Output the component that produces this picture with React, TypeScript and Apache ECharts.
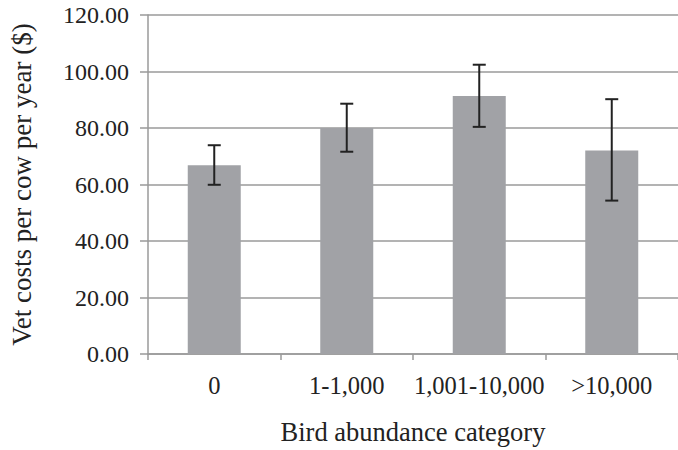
import React, { useEffect, useRef } from "react";
import * as echarts from "echarts";

const categories = ["0", "1-1,000", "1,001-10,000", ">10,000"];
const means = [66.8, 80.0, 91.3, 72.0];
const errLow = [59.9, 71.6, 80.4, 54.3];
const errHigh = [73.9, 88.6, 102.4, 90.2];
const yTicks = [0, 20, 40, 60, 80, 100, 120];

const FONT = "Times New Roman, Liberation Serif, DejaVu Serif, serif";

export default function App() {
  const ref = useRef<HTMLDivElement>(null);
  useEffect(() => {
    if (!ref.current) return;
    const chart = echarts.init(ref.current, null, { renderer: "svg" });
    const errData = categories.map((_, i) => [i, errLow[i], errHigh[i]]);
    chart.setOption({
      animation: false,
      backgroundColor: "#ffffff",
      textStyle: { fontFamily: FONT },
      grid: { left: 147, top: 15, width: 533, height: 344, containLabel: false },
      xAxis: {
        type: "category",
        data: categories,
        name: "Bird abundance category",
        nameLocation: "middle",
        nameGap: 64,
        nameTextStyle: { fontFamily: FONT, fontSize: 26.5, color: "#222" },
        axisLine: { lineStyle: { color: "#9a9a9a", width: 1.5 } },
        axisTick: { show: true, length: 6, interval: 0, lineStyle: { color: "#9a9a9a", width: 1.5 } },
        axisLabel: { fontFamily: FONT, fontSize: 24.5, color: "#222", margin: 19, interval: 0 },
      },
      yAxis: {
        type: "value",
        min: yTicks[0],
        max: yTicks[yTicks.length - 1],
        interval: 20,
        name: "Vet costs per cow per year ($)",
        nameLocation: "middle",
        nameGap: 113,
        nameTextStyle: { fontFamily: FONT, fontSize: 27, color: "#222" },
        axisLine: { show: true, lineStyle: { color: "#9a9a9a", width: 1.5 } },
        axisTick: { show: true, length: 8, inside: false, lineStyle: { color: "#9a9a9a", width: 1.5 } },
        splitLine: { show: true, lineStyle: { color: "#9a9a9a", width: 1.5 } },
        axisLabel: {
          fontFamily: FONT,
          fontSize: 24,
          color: "#222",
          margin: 19,
          formatter: (v: number) => v.toFixed(2),
        },
      },
      series: [
        {
          type: "bar",
          data: means,
          barWidth: "40%",
          itemStyle: { color: "#a1a2a6" },
        },
        {
          type: "custom",
          data: errData,
          z: 10,
          renderItem: (params: any, api: any) => {
            const x = api.value(0);
            const lo = api.coord([x, api.value(1)]);
            const hi = api.coord([x, api.value(2)]);
            const half = 6.5;
            const style = { stroke: "#222", lineWidth: 2 };
            return {
              type: "group",
              children: [
                { type: "line", shape: { x1: hi[0], y1: hi[1], x2: lo[0], y2: lo[1] }, style },
                { type: "line", shape: { x1: hi[0] - half, y1: hi[1], x2: hi[0] + half, y2: hi[1] }, style },
                { type: "line", shape: { x1: lo[0] - half, y1: lo[1], x2: lo[0] + half, y2: lo[1] }, style },
              ],
            };
          },
        },
      ],
    });
    return () => chart.dispose();
  }, []);
  return (
    <div
      ref={ref}
      style={{ position: "absolute", left: 0, top: 0, width: 678, height: 450 }}
    />
  );
}
